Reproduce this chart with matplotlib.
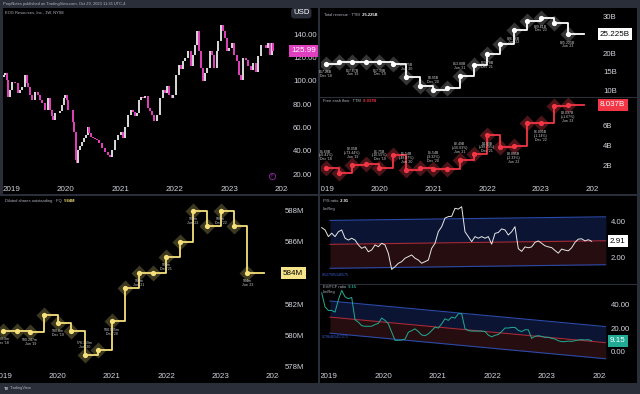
import numpy as np
import pandas as pd
import matplotlib
matplotlib.use('Agg')
import matplotlib.pyplot as plt
from matplotlib.patches import Rectangle
from matplotlib.transforms import Bbox, TransformedBbox

plt.rcParams['font.family'] = ['Liberation Sans', 'DejaVu Sans']

# ------------------------------------------------------------------ data
price_first_open = 103.0
price_time = [2018.872, 2018.890, 2018.927, 2018.945, 2018.982, 2019.018, 2019.073, 2019.128,
              2019.165, 2019.201, 2019.256, 2019.293, 2019.311, 2019.348, 2019.385, 2019.440,
              2019.495, 2019.531, 2019.568, 2019.623, 2019.678, 2019.714, 2019.751, 2019.769,
              2019.806, 2019.861, 2019.897, 2019.934, 2019.971, 2019.989, 2020.026, 2020.044,
              2020.099, 2020.136, 2020.154, 2020.190, 2020.209, 2020.227, 2020.264, 2020.300,
              2020.337, 2020.374, 2020.410, 2020.429, 2020.465, 2020.502, 2020.538, 2020.575,
              2020.612, 2020.667, 2020.722, 2020.777, 2020.813, 2020.850, 2020.905, 2020.960,
              2021.015, 2021.051, 2021.088, 2021.143, 2021.198, 2021.234, 2021.271, 2021.308,
              2021.344, 2021.381, 2021.418, 2021.454, 2021.509, 2021.546, 2021.582, 2021.619,
              2021.674, 2021.729, 2021.784, 2021.821, 2021.857, 2021.894, 2021.949, 2021.967,
              2022.022, 2022.077, 2022.114, 2022.150, 2022.187, 2022.242, 2022.297, 2022.333,
              2022.370, 2022.407, 2022.443, 2022.480, 2022.516, 2022.553, 2022.590, 2022.645,
              2022.681, 2022.718, 2022.773, 2022.791, 2022.846, 2022.883, 2022.919, 2022.956,
              2022.993, 2023.048, 2023.084, 2023.139, 2023.176, 2023.212, 2023.249, 2023.304,
              2023.341, 2023.396, 2023.432, 2023.487, 2023.524, 2023.579, 2023.615, 2023.670,
              2023.707, 2023.744, 2023.780, 2023.799]
price_close = [105, 107, 100.7, 86, 92, 99, 98, 89.5,
               92, 94.7, 105, 98, 94.7, 88, 83.6, 90.4,
               87.8, 84, 81, 75, 85, 75, 70, 66,
               72, 72, 74, 79, 85, 88, 83.6, 75,
               75, 64.6, 56, 32, 29.5, 40.6, 44, 47.5,
               51, 53.5, 60, 55, 51.8, 51, 50, 49,
               46.6, 42.4, 39, 36.3, 34.6, 40.6, 49, 53.5,
               56, 51, 60, 70.6, 75, 73, 70, 72,
               83.6, 86, 85, 87, 76.6, 74, 70.6, 65.5,
               70.6, 85, 92, 90, 95.6, 88, 85, 88,
               105, 113.6, 110, 117, 119.6, 125.6, 112.8, 122,
               130.8, 142.8, 125.6, 111, 99.9, 106.7, 111, 125.6,
               122, 111, 125.6, 134, 148, 142.8, 136.8, 125.6,
               128, 132.5, 122, 117, 105, 100.7, 119.6, 118,
               112.8, 109, 115, 108, 121, 130.8, 130.8, 128,
               132.5, 122, 132.5, 125.99]

quarter_start, quarter_end = '2018Q4', '2023Q2'
quarter_labels = ["Dec '18", "Mar '19", "Jun '19", "Sep '19", "Dec '19", "Mar '20", "Jun '20",
                  "Sep '20", "Dec '20", "Mar '21", "Jun '21", "Sep '21", "Dec '21", "Mar '22",
                  "Jun '22", "Sep '22", "Dec '22", "Mar '23", "Jun '23"]
revenue_b = [17.2, 17.55, 17.6, 17.6, 17.6, 17.0, 13.6, 11.2, 10.0, 10.5,
             13.8, 16.75, 19.7, 22.6, 26.4, 28.8, 29.6, 28.3, 25.225]
fcf_b = [1.73, 1.17, 2.0, 2.1, 1.73, 3.0, 1.5, 1.73, 1.6, 1.6,
         2.5, 3.07, 5.0, 3.83, 3.93, 6.17, 6.17, 7.93, 8.037]
shares_m = [580.3, 580.26, 580.25, 581.3, 580.8, 580.3, 578.74, 579.08, 580.9, 583.03,
            584.0, 584.0, 585.03, 586.0, 588.0, 587.0, 588.0, 587.0, 584.0]
revenue_notes = ["$17.26B", "$17.67B", "$17.39B", "$13.75B", "$9.95B",
                 "$13.80B", "$19.78B", "$26.36B", "$29.61B", "$25.225B"]
fcf_notes = ["$1.69B\n(+0.41%)", "$2.05B\n(+73.44%)", "$1.75B\n(-16.55%)", "$1.54B\n(-48.97%)",
             "$1.54B\n(-9.32%)", "$2.49B\n(+56.03%)", "$4.99B\n(+99.79%)", "$3.895B\n(-2.33%)",
             "$6.095B\n(-1.14%)", "$8.037B\n(+1.67%)"]
shares_notes = ["580.3m", "580.247m", "580.8m", "578.759m", "580.985m",
                "584m", "585m", "588m", "588m", "584m"]
revenue_note_side = [-1, -1, -1, 1, 1, 1, -1, -1, -1, -1]
fcf_note_side = [1, 1, 1, 1, 1, 1, -1, -1, -1, -1]
shares_note_side = [-1, -1, -1, 1, -1, -1, -1, -1, -1, -1]
last_bar_time = 2023.80

ratio_start, ratio_end = 2018.879, 2023.817
ps_ratio = [3.67, 3.54, 3.17, 3.36, 3.17, 3.44, 3.54, 3.08, 2.98, 3.08,
            2.98, 2.71, 2.52, 2.61, 2.33, 2.43, 2.71, 2.61, 2.80, 2.71,
            2.24, 1.35, 1.5, 1.69, 1.78, 1.97, 2.06, 2.15, 1.97, 1.87,
            1.69, 1.78, 1.87, 2.52, 2.80, 3.45, 3.72, 4.2, 4.28, 4.3,
            4.74, 4.7, 4.83, 3.44, 3.17, 2.89, 3.17, 3.08, 3.17, 3.08,
            3.17, 2.75, 3.35, 3.40, 3.6, 3.54, 3.26, 3.44, 3.72, 2.5,
            2.35, 2.6, 2.55, 2.6, 2.85, 2.93, 2.8, 2.66, 2.6, 2.56,
            2.4, 2.25, 2.48, 2.42, 2.38, 2.55, 2.85, 3.03, 3.05, 2.93,
            3.0, 2.91]
ev_fcf_ratio = [50, 38, 35, 35, 33.6, 44, 52, 46.6, 45, 46,
                27, 25, 22, 21.5, 21.5, 21.5, 23, 24, 28.5, 26.5,
                23.6, 16.5, 9.5, 9.5, 9.8, 10.5, 16.4, 17.8, 19.3, 17.0,
                14.1, 13.5, 15, 17.8, 20.7, 20, 23.6, 27.9, 26.5, 29.3,
                28.4, 32.2, 32.2, 19.5, 17.8, 17.4, 17.4, 17.4, 17.4, 17.0,
                14, 12.5, 13.8, 14.5, 17, 20, 20, 20.5, 20.5, 18,
                17, 18.5, 18.5, 11.2, 12.9, 13.5, 12.9, 12.1, 12.1, 11.2,
                10.6, 9.2, 8.4, 8.4, 8.9, 8.6, 9.2, 9.8, 10.1, 9.8,
                10.1, 9.15]
channel_time = [2019.03, 2024.08]
ps_channel_mid = [2.74, 2.94]
ps_channel_dev = 1.33
ev_channel_mid = [29.3, 7.5]
ev_channel_dev = 13.7

year_ticks = [2019, 2020, 2021, 2022, 2023, 2024]
year_labels = ['2019', '2020', '2021', '2022', '2023', '2024']
price_ticks = [20, 40, 60, 80, 100, 120, 140]
price_tick_labels = ['20.00', '40.00', '60.00', '80.00', '100.00', '120.00', '140.00']
revenue_ticks = [10, 15, 20, 30]
revenue_tick_labels = ['10B', '15B', '20B', '30B']
fcf_ticks = [2, 4, 6]
fcf_tick_labels = ['2B', '4B', '6B']
shares_ticks = [578, 580, 582, 586, 588]
shares_tick_labels = ['578M', '580M', '582M', '586M', '588M']
ps_ticks = [2, 4]
ps_tick_labels = ['2.00', '4.00']
ev_ticks = [0, 20, 40]
ev_tick_labels = ['0.00', '20.00', '40.00']

# ------------------------------------------------------------------ helpers
W, H = 640, 394
FRAME = '#2a2e39'
TXT = '#d1d4dc'
SMALL = '#b2b5be'

fig = plt.figure(figsize=(W / 100, H / 100), dpi=100)
fig.patch.set_facecolor(FRAME)


def to_year(ts):
    ts = pd.Timestamp(ts)
    days = 366 if ts.is_leap_year else 365
    return ts.year + (ts.dayofyear - 1 + ts.hour / 24) / days


quarter_time = [to_year(p.end_time) for p in pd.period_range(quarter_start, quarter_end, freq='Q')]


def panel(x0, y0, x1, y1):
    fig.patches.append(Rectangle((x0 / W, 1 - y1 / H), (x1 - x0) / W, (y1 - y0) / H,
                                 transform=fig.transFigure, facecolor='black',
                                 edgecolor='none', zorder=-10))


def hline(x0, x1, y, color=FRAME, lw=0.8):
    fig.add_artist(plt.Line2D([x0 / W, x1 / W], [1 - y / H, 1 - y / H],
                              transform=fig.transFigure, color=color, lw=lw, zorder=-5))


def add_ax(x0, y0, x1, y1, xlim, ylim, ticks, labels, pad_px):
    ax = fig.add_axes([x0 / W, 1 - y1 / H, (x1 - x0) / W, (y1 - y0) / H])
    ax.set_facecolor('none')
    for s in ax.spines.values():
        s.set_visible(False)
    ax.set_xlim(*xlim)
    ax.set_ylim(*ylim)
    ax.yaxis.tick_right()
    ax.set_yticks(ticks)
    ax.set_yticklabels(labels)
    ax.tick_params(axis='y', length=0, pad=pad_px * 0.72, labelsize=5.6, labelcolor=TXT)
    ax.set_xticks([])
    return ax


def date_axis(ax, x_from, x_to, pad_px):
    ax.set_xticks(year_ticks)
    ax.set_xticklabels(year_labels)
    ax.tick_params(axis='x', length=0, pad=pad_px * 0.72, labelsize=5.8, labelcolor=TXT)
    clip = TransformedBbox(Bbox.from_extents(x_from / W, 0, x_to / W, 1), fig.transFigure)
    for tk in ax.xaxis.get_major_ticks():
        tk.label1.set_clip_on(True)
        tk.label1.set_clip_box(clip)


def last_box(ax, value, text, fc, tc, off_px):
    ax.annotate(text, xy=(1, value), xycoords=ax.get_yaxis_transform(),
                xytext=(off_px * 0.72, 0), textcoords='offset points',
                ha='left', va='center', fontsize=5.8, color=tc, annotation_clip=False,
                bbox=dict(boxstyle='square,pad=0.3', fc=fc, ec='none'), zorder=10)


def title(x, y, label, value=None, vcolor='white'):
    t = fig.text(x / W, 1 - y / H, label, fontsize=2.9, color=SMALL, va='center', ha='left')
    if value is not None:
        a = plt.Annotation('  ' + value, xy=(1, 0.5), xycoords=t, va='center',
                           ha='left', fontsize=2.9, color=vcolor, fontweight='bold')
        fig.add_artist(a)
    return t


def fin_series(ax, vals, line_c, diamond_c, notes, sides):
    tt = list(quarter_time) + [last_bar_time]
    vv = list(vals) + [vals[-1]]
    ax.plot(quarter_time, vals, 'D', ms=7.8, color=diamond_c, mec='none', zorder=2)
    ax.step(tt, vv, where='post', color=line_c, lw=1.3, zorder=3)
    ax.plot(quarter_time, vals, 'o', ms=3.8, color=line_c, mec='none', zorder=4)
    for k, (note, side) in enumerate(zip(notes, sides)):
        i = 2 * k
        txt = note + '\n' + quarter_labels[i]
        ax.annotate(txt, xy=(quarter_time[i], vals[i]), xytext=(0, 4.5 * side),
                    textcoords='offset points', ha='center',
                    va='bottom' if side > 0 else 'top', fontsize=2.5, color='#d0d0d0',
                    linespacing=1.0, zorder=5, annotation_clip=False)


# ------------------------------------------------------------------ panels
panel(3, 8, 318, 194)
panel(320, 8, 637, 194)
panel(0, 196, 318, 383)
panel(320, 196, 637, 383)
hline(320, 637, 97)
hline(320, 637, 283.5)

# header / footer
fig.text(3 / W, 1 - 4.3 / H, 'PropNotes published on TradingView.com, Oct 29, 2023 11:35 UTC-4',
         fontsize=2.9, color=SMALL, va='center')
fig.text(4 / W, 1 - 388.5 / H, 'TV', fontsize=3.0, color=TXT, va='center', fontweight='bold')
fig.text(10 / W, 1 - 388.5 / H, 'TradingView', fontsize=2.9, color=SMALL, va='center')

# ---------------- top-left: price candles
ax = add_ax(3, 8, 288, 181, (2018.853, 2024.073), (14.0, 162.6),
            price_ticks, price_tick_labels, 5)
date_axis(ax, 3, 288, 5)
opens = [price_first_open] + price_close[:-1]
body = np.array(price_close) - np.array(opens)
cols = ['#d4d4d4' if b >= 0 else '#dd3fb8' for b in body]
ax.bar(price_time, body, bottom=opens, width=0.03, color=cols, linewidth=0, zorder=3)
last_box(ax, price_close[-1], '125.99', '#e040bf', 'white', 3)
ax.plot([2023.78], [18.0], 'o', ms=4.5, mfc='none', mec='#9c27b0', mew=0.6, clip_on=False)
ax.text(2023.78, 18.0, 'P', fontsize=2.5, color='#9c27b0', ha='center', va='center')
fig.text(293 / W, 1 - 13 / H, 'USD', fontsize=5.6, color='white', va='center',
         bbox=dict(boxstyle='round,pad=0.25,rounding_size=0.4', fc=FRAME, ec='none'))
title(5, 12.5, 'EOG Resources, Inc., 1W, NYSE')

# ---------------- top-right: revenue
ax = add_ax(321, 9, 598, 96, (2018.913, 2024.061), (8.41, 32.07),
            revenue_ticks, revenue_tick_labels, 5)
fin_series(ax, revenue_b, 'white', '#353535', revenue_notes, revenue_note_side)
last_box(ax, revenue_b[-1], '25.225B', 'white', 'black', 2)
title(324, 15.5, 'Total revenue · TTM', '25.225B', 'white')

# ---------------- top-right: free cash flow
ax = add_ax(321, 98, 598, 181, (2018.913, 2024.061), (0.4, 8.7),
            fcf_ticks, fcf_tick_labels, 5)
date_axis(ax, 321, 598, 5)
fin_series(ax, fcf_b, '#f23645', '#4d1519', fcf_notes, fcf_note_side)
last_box(ax, fcf_b[-1], '8.037B', '#f23645', 'white', 2)
title(323, 101.5, 'Free cash flow · TTM', '8.037B', '#f23645')

# ---------------- bottom-left: diluted shares
ax = add_ax(0, 197, 279, 369, (2018.939, 2024.077), (577.85, 588.88),
            shares_ticks, shares_tick_labels, 6)
date_axis(ax, 0, 279, 3.5)
fin_series(ax, shares_m, '#f5e07a', '#3d3820', shares_notes, shares_note_side)
last_box(ax, shares_m[-1], '584M', '#f7e38a', 'black', 4)
title(5, 201.5, 'Diluted shares outstanding · FQ', '584M', '#f5e07a')

# ---------------- bottom-right: P/S with regression channel
ratio_time = np.linspace(ratio_start, ratio_end, len(ps_ratio))
ax = add_ax(321, 197, 606, 283, (2018.866, 2024.080), (0.594, 5.37),
            ps_ticks, ps_tick_labels, 5)
mid = np.array(ps_channel_mid)
ax.fill_between(channel_time, mid, mid + ps_channel_dev, color='#0b1533', lw=0, zorder=1)
ax.fill_between(channel_time, mid - ps_channel_dev, mid, color='#260d10', lw=0, zorder=1)
ax.plot(channel_time, mid + ps_channel_dev, color='#2b4aa8', lw=0.8, zorder=2)
ax.plot(channel_time, mid - ps_channel_dev, color='#2b4aa8', lw=0.8, zorder=2)
ax.plot(channel_time, mid, color='#a82a35', lw=0.8, zorder=2)
ax.plot(ratio_time, ps_ratio, color='#e6e6e6', lw=0.7, zorder=3)
last_box(ax, ps_ratio[-1], '2.91', 'white', 'black', 4)
fig.text(322 / W, 1 - 274.5 / H, '0.527905146575', fontsize=2.6, color='#3b5fd0', va='center')
title(323, 201.5, 'P/S ratio', '2.91', 'white')
fig.text(323 / W, 1 - 209 / H, 'LinReg', fontsize=2.9, color=SMALL, va='center')

# ---------------- bottom-right: EV/FCF with regression channel
ax = add_ax(321, 284, 606, 369, (2018.866, 2024.080), (-14.9, 57.5),
            ev_ticks, ev_tick_labels, 5)
date_axis(ax, 321, 606, 3.5)
mid = np.array(ev_channel_mid)
ax.fill_between(channel_time, mid, mid + ev_channel_dev, color='#0b1533', lw=0, zorder=1)
ax.fill_between(channel_time, mid - ev_channel_dev, mid, color='#260d10', lw=0, zorder=1)
ax.plot(channel_time, mid + ev_channel_dev, color='#2b4aa8', lw=0.8, zorder=2)
ax.plot(channel_time, mid - ev_channel_dev, color='#2b4aa8', lw=0.8, zorder=2)
ax.plot(channel_time, mid, color='#a82a35', lw=0.8, zorder=2)
ax.plot(ratio_time, ev_fcf_ratio, color='#22ab94', lw=0.7, zorder=3)
last_box(ax, ev_fcf_ratio[-1], '9.15', '#22ab94', 'white', 4)
fig.text(322 / W, 1 - 337.5 / H, '0.796465417271', fontsize=2.6, color='#3b5fd0', va='center')
title(323, 287.5, 'EV/FCF ratio', '9.15', '#22ab94')
fig.text(323 / W, 1 - 292.5 / H, 'LinReg', fontsize=2.9, color=SMALL, va='center')

fig.savefig('out.png', dpi=100, facecolor=FRAME)
